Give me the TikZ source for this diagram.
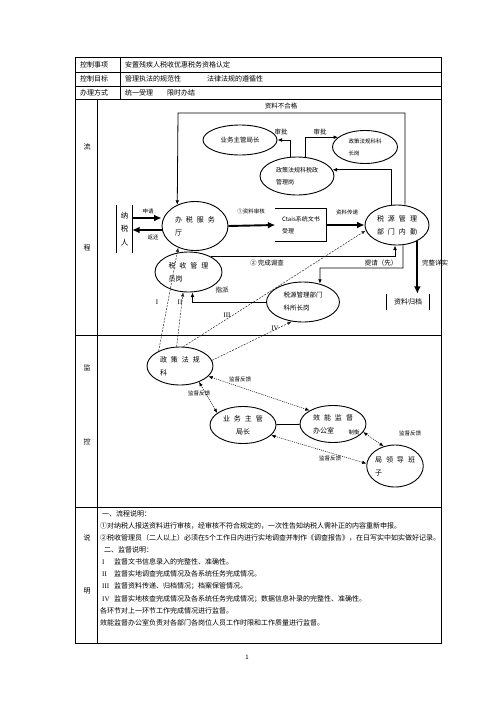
\documentclass[tikz,border=0pt]{standalone}
\usepackage{fontspec}
\setmainfont{Noto Sans CJK SC}
\newfontfamily\romfont{Liberation Serif}
\usetikzlibrary{arrows.meta, positioning, shapes.geometric}
\newcommand{\kgap}{\hspace{4pt}}
\tikzset{
  oval/.style={draw, ellipse, line width=0.9pt, inner sep=0pt, align=left, font=\fontsize{7}{13}\selectfont},
  frame/.style={line width=0.8pt},
  arrow/.style={-{Latex[length=1.6mm, width=1.3mm]}, line width=0.8pt},
  fatarrow/.style={-{Latex[length=2.6mm, width=2.4mm]}, line width=1.9pt},
  check/.style={-{Latex[length=1.5mm, width=1.2mm]}, line width=0.5pt, black!85, dash pattern=on 2pt off 1.2pt},
  feedback/.style={{Latex[length=1.5mm, width=1.2mm]}-{Latex[length=1.5mm, width=1.2mm]}, line width=0.5pt, dash pattern=on 1pt off 1pt},
  note/.style={inner sep=0pt, font=\fontsize{6.5}{8}\selectfont},
  tinynote/.style={inner sep=0pt, font=\fontsize{5.5}{6}\selectfont},
  rom/.style={inner sep=0pt, font=\romfont\fontsize{7}{8}\selectfont},
  cell/.style={anchor=west, inner sep=0pt, font=\fontsize{7}{8}\selectfont},
  side/.style={inner sep=0pt, font=\fontsize{7}{8}\selectfont},
  every node/.style={font=\fontsize{7}{8}\selectfont}
}

\begin{document}
\begin{tikzpicture}[x=1pt, y=-1pt]
    \useasboundingbox (0,0) rectangle (496,702);

    % table
    \draw[frame] (75,57) rectangle (441,643);
    \foreach \yy in {72,86,99,335,507}
        \draw[frame] (75,\yy) -- (441,\yy);
    \draw[frame] (120,57) -- (120,99);
    \draw[frame] (97,99) -- (97,643);

    \node[cell] (kzsx) at (80,64.5) {控制事项};
    \node[cell] (kzsxv) at (125,64.5) {安置残疾人税收优惠税务资格认定};
    \node[cell] (kzmb) at (80,79) {控制目标};
    \node[cell] (kzmbv) at (125,79) {管理执法的规范性};
    \node[cell] (kzmbw) at (207,79) {法律法规的遵循性};
    \node[cell] (blfs) at (80,92.5) {办理方式};
    \node[cell] (blfsv) at (125,92.5) {统一受理};
    \node[cell] (blfsw) at (167,92.5) {限时办结};

    \node[side] (liu) at (87,147) {流};
    \node[side] (cheng) at (87,248) {程};
    \node[side] (jian) at (87,368) {监};
    \node[side] (kong) at (87,442) {控};
    \node[side] (shuo) at (87,538) {说};
    \node[side] (ming) at (87,591) {明};

    % flow
    \node[oval, minimum width=74, minimum height=30, font=\fontsize{6.5}{8}\selectfont] (yzj) at (240,140) {业务主管局长};
    \node[oval, minimum width=65, minimum height=33, font=\fontsize{5.5}{12}\selectfont] (zcfgkz) at (365,147) {政策法规科科\\长岗};
    \node[oval, minimum width=74, minimum height=38, font=\fontsize{6}{12}\selectfont] (zcfgsz) at (297,176) {政策法规科税政\\管理岗};
    \node[inner sep=0pt, minimum width=15, minimum height=48, align=center, font=\fontsize{7.5}{13.5}\selectfont] (nsr) at (124.5,229) {纳\\税\\人};
    \node[oval, minimum width=66, minimum height=49] (bsfwt) at (195,226) {办\kgap 税\kgap 服\kgap 务\\厅};
    \node[inner sep=0pt, minimum width=51, minimum height=33, align=left, font=\fontsize{6}{12}\selectfont] (ctais) at (301,225) {Ctais系统文书\\受理};
    \node[oval, minimum width=64, minimum height=40] (sygl) at (397,225) {税\kgap 源\kgap 管\kgap 理\\部\kgap 门\kgap 内\kgap 勤};
    \node[oval, minimum width=67, minimum height=40] (sxgl) at (188.5,272) {税\kgap 收\kgap 管\kgap 理\\员岗};
    \node[oval, minimum width=73, minimum height=40, font=\fontsize{6.5}{13}\selectfont] (kszg) at (303,302) {税源管理部门\\科所长岗};
    \node[inner sep=0pt, minimum width=43, minimum height=16] (zlgd) at (408,302) {资料归档};

    \draw[frame] (nsr.north west) -- (nsr.south west) (nsr.north east) -- (nsr.south east);
    \draw[frame] (ctais.north west) -- (ctais.north east) -- (ctais.south east) -- (ctais.south west);
    \draw[frame] (zlgd.north west) -- (zlgd.south west) (zlgd.north east) -- (zlgd.south east);

    \coordinate (loopl) at (178,113);
    \coordinate (tq) at (320,268);
    \draw[arrow] ([xshift=8pt]sygl.north) |- (loopl) -- (bsfwt.130);
    \draw[arrow] ([xshift=-7pt]zcfgsz.north) |- (yzj.east);
    \draw[arrow] ([xshift=8pt]zcfgsz.north) |- (zcfgkz.160);
    \draw[arrow] ([xshift=-6pt]sygl.north) |- (zcfgsz.10);
    \draw[fatarrow] ([yshift=11pt]nsr.east) -- ([yshift=11pt]nsr.east -| bsfwt.west);
    \draw[fatarrow] ([yshift=-4pt]bsfwt.west) -- ([yshift=-4pt]bsfwt.west -| nsr.east);
    \draw[fatarrow] (bsfwt.east) -- (ctais.west);
    \draw[fatarrow] (ctais.east) -- (sygl.west);
    \draw[fatarrow] (sygl.-38) -- (sygl.-38 |- zlgd.north);
    \draw[arrow] (sxgl.35) -| ([xshift=-2pt]sygl.south);
    \draw[arrow] ([xshift=6pt]sygl.south) |- (tq) -- (kszg.47);
    \draw[arrow] (kszg.west) -| ([xshift=4pt]sxgl.south);

    \node[note] (zlbhg) at (281,106) {资料不合格};
    \node[note] (sp1) at (281,132) {审批};
    \node[note] (sp2) at (320,132) {审批};
    \node[tinynote] (sq) at (148,211) {申请};
    \node[tinynote] (fh) at (153,237) {返还};
    \node[tinynote] (zlsh) at (251,211) {①资料审核};
    \node[tinynote] (zlcd) at (347,212) {资料传递};
    \node[note] (wcdc) at (267,263) {②\ 完成调查};
    \node[note] (tq1) at (381,263) {提请（先）};
    \node[note] (wzxs) at (435,263) {完整详实};
    \node[note] (zp) at (222,290) {指派};

    % monitoring
    \node[oval, minimum width=66, minimum height=38] (zcfgk) at (180,366) {政\kgap 策\kgap 法\kgap 规\\科};
    \node[oval, minimum width=66, minimum height=37, align=center] (ywzg) at (243,425) {业\kgap 务\kgap 主\kgap 管\\局长};
    \node[oval, minimum width=66, minimum height=37] (xnjd) at (333,424) {效\kgap 能\kgap 监\kgap 督\\办公室\hspace{14pt}};
    \node[oval, minimum width=56, minimum height=42] (jldbz) at (395,466) {局\kgap 领\kgap 导\kgap 班\\子};
    \node[tinynote] (zh) at (354,432) {制衡};

    \draw[check] (zcfgk.145) -- (bsfwt.232);
    \draw[check] (zcfgk.100) -- (sxgl.255);
    \draw[check] (zcfgk.80) -- (sygl.190);
    \draw[check] (zcfgk.10) -- (kszg.240);
    \node[rom] (r1) at (157,302) {I};
    \node[rom] (r2) at (180,302) {II};
    \node[rom] (r3) at (227,315) {III};
    \node[rom] (r4) at (275,328) {IV};

    \draw[line width=0.8pt] (ywzg) -- (xnjd);
    \draw[feedback] (zcfgk.-40) -- (ywzg.155);
    \draw[feedback] (zcfgk.-20) -- (xnjd.150);
    \draw[feedback] (ywzg.-20) -- (jldbz.175);
    \draw[feedback] (xnjd.-15) -- (jldbz.120);
    \node[tinynote] (fk1) at (240,379) {监督反馈};
    \node[tinynote] (fk2) at (199,393) {监督反馈};
    \node[tinynote] (fk3) at (330,458) {监督反馈};
    \node[tinynote] (fk4) at (410,433) {监督反馈};

    % notes
    \node[cell] (t1) at (102,514) {一、流程说明：};
    \node[cell] (t2) at (100,526) {①对纳税人报送资料进行审核，经审核不符合规定的，一次性告知纳税人需补正的内容重新申报。};
    \node[cell] (t3) at (100,538) {②税收管理员（二人以上）必须在5个工作日内进行实地调查并制作《调查报告》，在日写实中如实做好记录。};
    \node[cell] (t4) at (104,550) {二、监督说明：};
    \node[cell] (t5) at (102,562) {\makebox[12pt][l]{\romfont I}监督文书信息录入的完整性、准确性。};
    \node[cell] (t6) at (102,574) {\makebox[12pt][l]{\romfont II}监督实地调查完成情况及各系统任务完成情况。};
    \node[cell] (t7) at (102,586) {\makebox[12pt][l]{\romfont III}监督资料传递、归档情况；档案保管情况。};
    \node[cell] (t8) at (102,599) {\makebox[12pt][l]{\romfont IV}监督实地核查完成情况及各系统任务完成情况；数据信息补录的完整性、准确性。};
    \node[cell] (t9) at (100,611) {各环节对上一环节工作完成情况进行监督。};
    \node[cell] (t10) at (100,623) {效能监督办公室负责对各部门各岗位人员工作时限和工作质量进行监督。};

    \node[font=\fontsize{6}{7}\selectfont, inner sep=0pt] (pg) at (247,657) {1};
\end{tikzpicture}
\end{document}
